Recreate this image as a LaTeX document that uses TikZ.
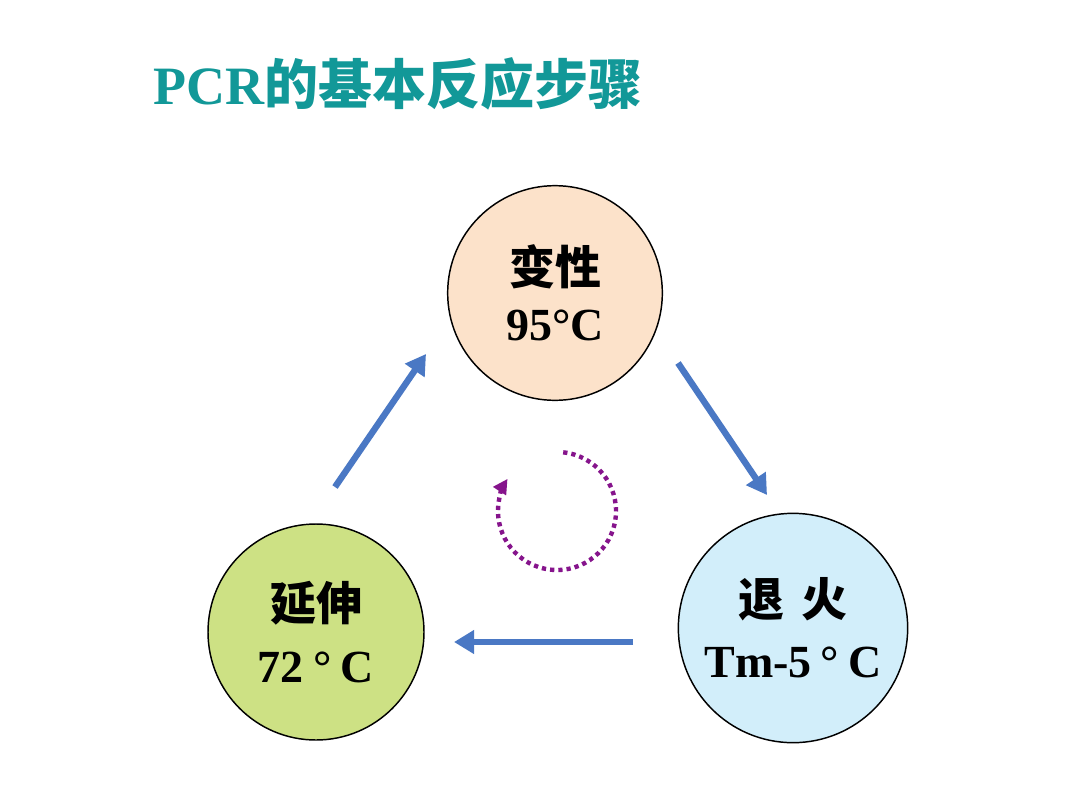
\documentclass[tikz,border=0pt]{standalone}
\usepackage{fontspec}
\setmainfont{Liberation Serif}
\newfontfamily\cjk{Noto Sans CJK SC}
\usetikzlibrary{arrows.meta}
\definecolor{titlecol}{RGB}{18,152,152}
\definecolor{peach}{RGB}{252,226,202}
\definecolor{skyfill}{RGB}{210,238,250}
\definecolor{limefill}{RGB}{205,225,132}
\definecolor{arrowblue}{RGB}{74,120,196}
\definecolor{cyclepurple}{RGB}{134,20,140}
\begin{document}
\begin{tikzpicture}[x=0.75pt,y=-0.75pt,
  stage/.style={circle, draw=black, line width=1.1pt, inner sep=0pt, align=center,
    font=\fontsize{34.5}{42}\selectfont\bfseries},
  flow/.style={draw=arrowblue, line width=4.8pt, -{Triangle[length=15pt,width=17pt]}},
  cyclearc/.style={draw=cyclepurple, line width=3.3pt, dash pattern=on 3.2pt off 3pt,
    -{Triangle[length=11pt,width=11pt]}}]
\useasboundingbox (0,0) rectangle (1080,810);
\fill[white] (0,0) rectangle (1080,810);

\node[anchor=base west, inner sep=0pt, text=titlecol,
  font=\fontsize{40.5}{48}\selectfont\bfseries] (title) at (153,104) {PCR{\cjk 的基本反应步骤}};

\node[stage, fill=peach, minimum size=161pt] (denature) at (555,293)
  {{\cjk 变性}\\95°C};
\node[stage, fill=skyfill, minimum size=172pt] (anneal) at (793,628)
  {{\cjk 退\hspace{0.35em}火}\\[4pt]Tm-5\hspace{0.2em}°\hspace{0.2em}C};
\node[stage, fill=limefill, minimum size=162pt] (extend) at (316,632)
  {{\cjk 延伸}\\[4pt]72\hspace{0.2em}°\hspace{0.2em}C};

\coordinate (a1s) at (678,363);
\coordinate (a1e) at (767,495);
\coordinate (a2s) at (633,642);
\coordinate (a2e) at (454,642);
\coordinate (a3s) at (335,487);
\coordinate (a3e) at (426,354);
\draw[flow] (a1s) -- (a1e);
\draw[flow] (a2s) -- (a2e);
\draw[flow] (a3s) -- (a3e);

\coordinate (cyc) at (557,511);
\draw[cyclearc] (cyc) ++(-84:59) arc[start angle=-84, end angle=213, radius=59];
\end{tikzpicture}
\end{document}
